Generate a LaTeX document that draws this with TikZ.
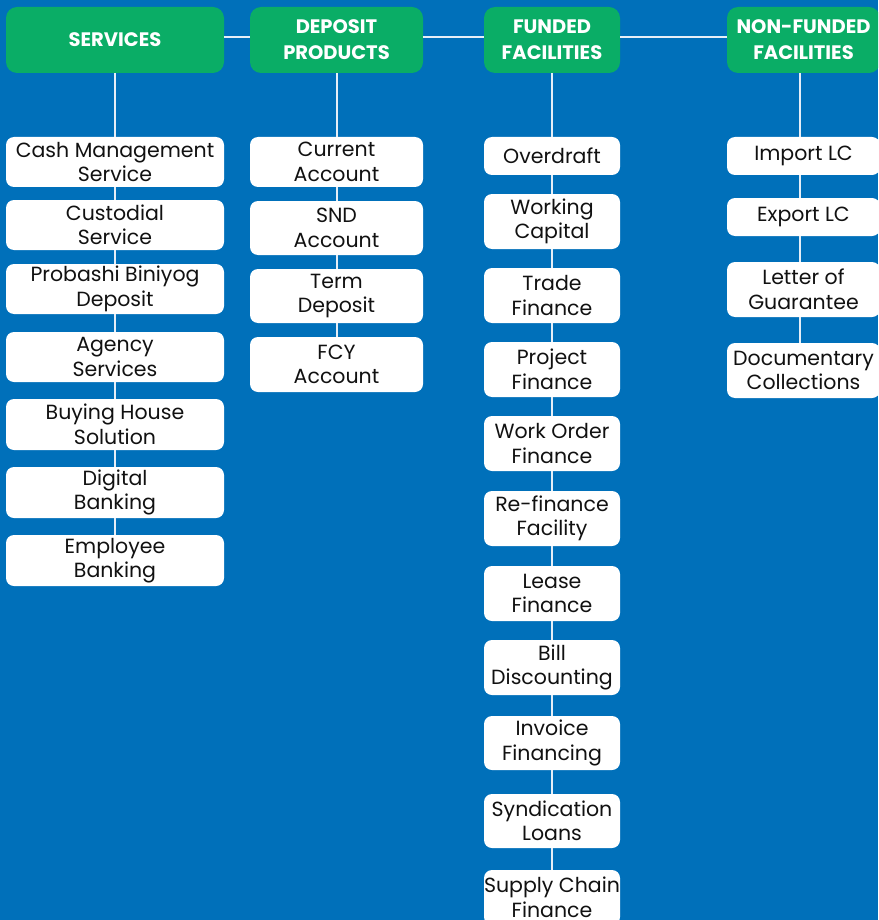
\documentclass[tikz,border=0pt]{standalone}
\usepackage{fontspec}
\setmainfont{Poppins}
\definecolor{bgblue}{HTML}{0070BA}
\definecolor{hdrgreen}{HTML}{0AAD66}
\definecolor{linkline}{HTML}{E6EEF7}
\definecolor{inktext}{HTML}{111111}
\tikzset{
  hdr/.style={fill=hdrgreen, rounded corners=11pt, text=white, align=center,
    font=\bfseries\fontsize{19.5}{26}\selectfont, inner sep=0pt},
  item/.style={fill=white, rounded corners=8pt, text=inktext, align=center,
    font=\fontsize{20.5}{24.5}\selectfont, inner sep=0pt},
  link/.style={draw=linkline, line width=2pt},
}
\begin{document}
\begin{tikzpicture}[x=1pt, y=-1pt]
  \clip (0,0) rectangle (878,920);
  \fill[bgblue] (0,0) rectangle (878,920);
  \useasboundingbox (0,0) rectangle (878,920);

  % column headers
  \node[hdr, minimum width=218pt, minimum height=66pt] (svc) at (115,40) {SERVICES};
  \node[hdr, minimum width=173pt, minimum height=66pt] (dep) at (336.5,40) {DEPOSIT\\PRODUCTS};
  \node[hdr, minimum width=136pt, minimum height=66pt] (fund) at (552,40) {FUNDED\\FACILITIES};
  \node[hdr, minimum width=153pt, minimum height=66pt] (nonf) at (803.5,40) {NON-FUNDED\\FACILITIES};

  % services column
  \begin{scope}[every node/.style={item, minimum width=218pt}]
    \node[minimum height=50pt] (s1) at (115,162) {Cash Management\\Service};
    \node[minimum height=50pt] (s2) at (115,225) {Custodial\\Service};
    \node[minimum height=50pt] (s3) at (115,289) {Probashi Biniyog\\Deposit};
    \node[minimum height=50pt] (s4) at (115,357) {Agency\\Services};
    \node[minimum height=51pt] (s5) at (115,424.5) {Buying House\\Solution};
    \node[minimum height=51pt] (s6) at (115,492.5) {Digital\\Banking};
    \node[minimum height=51pt] (s7) at (115,560.5) {Employee\\Banking};
  \end{scope}

  % deposit products column
  \begin{scope}[every node/.style={item, minimum width=173pt}]
    \node[minimum height=50pt] (d1) at (336.5,162) {Current\\Account};
    \node[minimum height=54pt] (d2) at (336.5,228) {SND\\Account};
    \node[minimum height=54pt] (d3) at (336.5,296) {Term\\Deposit};
    \node[minimum height=55pt] (d4) at (336.5,364.5) {FCY\\Account};
  \end{scope}

  % funded facilities column
  \begin{scope}[every node/.style={item, minimum width=136pt}]
    \node[minimum height=38pt] (f1) at (552,156) {Overdraft};
    \node[minimum height=55pt] (f2) at (552,221.5) {Working\\Capital};
    \node[minimum height=55pt] (f3) at (552,295.5) {Trade\\Finance};
    \node[minimum height=55pt] (f4) at (552,369.5) {Project\\Finance};
    \node[minimum height=55pt] (f5) at (552,443.5) {Work Order\\Finance};
    \node[minimum height=55pt] (f6) at (552,518.5) {Re-finance\\Facility};
    \node[minimum height=55pt] (f7) at (552,593.5) {Lease\\Finance};
    \node[minimum height=55pt] (f8) at (552,667.5) {Bill\\Discounting};
    \node[minimum height=54pt] (f9) at (552,743) {Invoice\\Financing};
    \node[minimum height=54pt] (f10) at (552,821) {Syndication\\Loans};
    \node[minimum height=55pt] (f11) at (552,897.5) {Supply Chain\\Finance};
  \end{scope}

  % non-funded facilities column
  \begin{scope}[every node/.style={item, minimum width=153pt}]
    \node[minimum height=38pt] (n1) at (803.5,156) {Import LC};
    \node[minimum height=38pt] (n2) at (803.5,217) {Export LC};
    \node[minimum height=55pt] (n3) at (803.5,289.5) {Letter of\\Guarantee};
    \node[minimum height=55pt] (n4) at (803.5,370.5) {Documentary\\Collections};
  \end{scope}

  % top row links
  \draw[link] ([yshift=3pt]svc.east) -- ([yshift=3pt]dep.west);
  \draw[link] ([yshift=3pt]dep.east) -- ([yshift=3pt]fund.west);
  \draw[link] ([yshift=3pt]fund.east) -- ([yshift=3pt]nonf.west);

  % column links
  \draw[link] (svc.south) -- (s1.north);
  \foreach \a/\b in {s1/s2,s2/s3,s3/s4,s4/s5,s5/s6,s6/s7}
    \draw[link] (\a.south) -- (\b.north);
  \draw[link] (dep.south) -- (d1.north);
  \foreach \a/\b in {d1/d2,d2/d3,d3/d4}
    \draw[link] (\a.south) -- (\b.north);
  \draw[link] (fund.south) -- (f1.north);
  \foreach \a/\b in {f1/f2,f2/f3,f3/f4,f4/f5,f5/f6,f6/f7,f7/f8,f8/f9,f9/f10,f10/f11}
    \draw[link] (\a.south) -- (\b.north);
  \draw[link] ([xshift=-4pt]nonf.south) -- ([xshift=-4pt]n1.north);
  \foreach \a/\b in {n1/n2,n2/n3,n3/n4}
    \draw[link] ([xshift=-4pt]\a.south) -- ([xshift=-4pt]\b.north);
\end{tikzpicture}
\end{document}
